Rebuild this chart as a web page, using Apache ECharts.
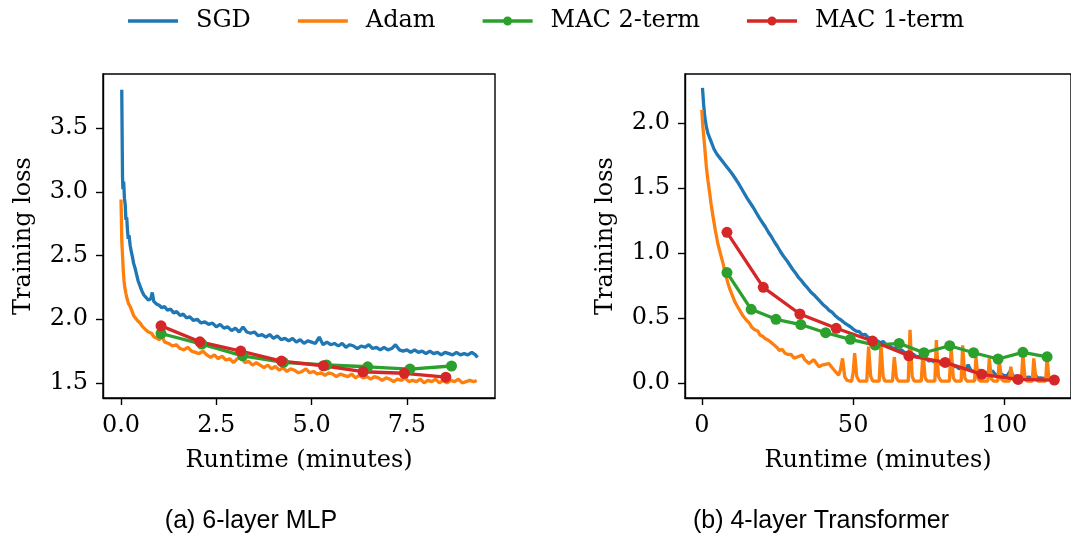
<!DOCTYPE html>
<html>
<head>
<meta charset="utf-8">
<script src="https://cdn.jsdelivr.net/npm/echarts@6/dist/echarts.min.js"></script>
<style>
html,body{margin:0;padding:0;background:#fff;}
#chart{width:1071px;height:539px;}
</style>
</head>
<body>
<div id="chart"></div>
<script>
// ---------- data ----------
const seriesNames = ['SGD', 'Adam', 'MAC 2-term', 'MAC 1-term'];
const captions = ['(a) 6-layer MLP', '(b) 4-layer Transformer'];
const xTitle = 'Runtime (minutes)';
const yTitle = 'Training loss';

const leftXTicks = [0, 2.5, 5.0, 7.5];
const leftYTicks = [1.5, 2.0, 2.5, 3.0, 3.5];
const rightXTicks = [0, 50, 100];
const rightYTicks = [0.0, 0.5, 1.0, 1.5, 2.0];

// (a) 6-layer MLP
const mlpSGD = [[0.02,3.80],[0.03,3.45],[0.04,3.12],[0.05,3.02],[0.07,3.08],[0.09,2.95],[0.11,2.90],[0.13,2.78],[0.15,2.80],[0.17,2.70],[0.19,2.63],[0.21,2.66],[0.24,2.58],[0.27,2.53],[0.30,2.49],[0.33,2.44],[0.37,2.40],[0.41,2.35],[0.45,2.30],[0.5,2.26],[0.55,2.22],[0.6,2.19],[0.66,2.17],[0.72,2.15],[0.78,2.16],[0.82,2.21],[0.86,2.14],[0.93,2.12],[1.0,2.11],[1.07,2.09],[1.14,2.10],[1.22,2.07],[1.3,2.08],[1.38,2.05],[1.46,2.06],[1.55,2.03],[1.63,2.04],[1.72,2.01],[1.8,2.02],[1.9,1.99],[2.0,2.00],[2.1,1.97],[2.2,1.98],[2.3,1.96],[2.4,1.97],[2.5,1.94],[2.6,1.96],[2.7,1.93],[2.8,1.94],[2.9,1.91],[3.0,1.93],[3.1,1.90],[3.2,1.94],[3.3,1.90],[3.4,1.89],[3.5,1.90],[3.6,1.87],[3.7,1.88],[3.8,1.86],[3.9,1.88],[4.0,1.85],[4.1,1.87],[4.2,1.84],[4.3,1.85],[4.4,1.83],[4.5,1.85],[4.6,1.82],[4.7,1.84],[4.8,1.81],[4.9,1.83],[5.0,1.82],[5.1,1.81],[5.2,1.86],[5.3,1.80],[5.4,1.82],[5.5,1.80],[5.6,1.81],[5.7,1.79],[5.8,1.81],[5.9,1.78],[6.0,1.80],[6.1,1.79],[6.2,1.77],[6.3,1.79],[6.4,1.78],[6.5,1.80],[6.6,1.77],[6.7,1.78],[6.8,1.76],[6.9,1.78],[7.0,1.76],[7.1,1.77],[7.2,1.80],[7.3,1.76],[7.4,1.75],[7.5,1.76],[7.6,1.74],[7.7,1.76],[7.8,1.74],[7.9,1.75],[8.0,1.73],[8.1,1.75],[8.2,1.73],[8.3,1.74],[8.4,1.72],[8.5,1.74],[8.6,1.73],[8.7,1.72],[8.8,1.74],[8.9,1.72],[9.0,1.73],[9.1,1.72],[9.2,1.74],[9.3,1.72],[9.35,1.70]];
const mlpAdam = [[0,2.94],[0.01,2.80],[0.02,2.62],[0.04,2.50],[0.06,2.38],[0.08,2.30],[0.1,2.25],[0.13,2.20],[0.16,2.16],[0.2,2.12],[0.24,2.10],[0.28,2.07],[0.33,2.03],[0.38,2.01],[0.43,1.99],[0.5,1.97],[0.57,1.94],[0.64,1.92],[0.72,1.90],[0.8,1.89],[0.87,1.86],[0.94,1.85],[1.0,1.84],[1.08,1.86],[1.15,1.82],[1.25,1.81],[1.35,1.79],[1.45,1.80],[1.55,1.77],[1.65,1.76],[1.75,1.78],[1.85,1.75],[1.95,1.74],[2.05,1.73],[2.15,1.75],[2.25,1.72],[2.35,1.70],[2.45,1.72],[2.55,1.69],[2.65,1.71],[2.75,1.68],[2.85,1.69],[2.95,1.66],[3.05,1.69],[3.15,1.70],[3.25,1.66],[3.35,1.67],[3.45,1.64],[3.55,1.66],[3.65,1.64],[3.75,1.62],[3.85,1.64],[3.95,1.61],[4.05,1.63],[4.15,1.60],[4.25,1.62],[4.35,1.59],[4.45,1.61],[4.55,1.60],[4.65,1.58],[4.75,1.59],[4.85,1.61],[4.95,1.58],[5.05,1.59],[5.15,1.57],[5.25,1.58],[5.35,1.56],[5.45,1.58],[5.55,1.57],[5.65,1.55],[5.75,1.57],[5.85,1.56],[5.95,1.55],[6.05,1.57],[6.15,1.54],[6.25,1.56],[6.35,1.54],[6.45,1.55],[6.55,1.53],[6.65,1.55],[6.75,1.54],[6.85,1.52],[6.95,1.54],[7.05,1.53],[7.15,1.51],[7.25,1.53],[7.35,1.52],[7.45,1.54],[7.55,1.51],[7.65,1.52],[7.75,1.51],[7.85,1.53],[7.95,1.50],[8.05,1.52],[8.15,1.51],[8.25,1.53],[8.35,1.50],[8.45,1.52],[8.55,1.50],[8.65,1.52],[8.75,1.51],[8.85,1.53],[8.95,1.50],[9.05,1.51],[9.15,1.52],[9.25,1.51],[9.33,1.52]];
const mlpMac2 = [[1.05,1.888],[2.12,1.805],[3.19,1.713],[4.26,1.661],[5.39,1.641],[6.47,1.627],[7.58,1.609],[8.67,1.633]];
const mlpMac1 = [[1.05,1.948],[2.07,1.823],[3.14,1.750],[4.21,1.672],[5.31,1.635],[6.35,1.588],[7.43,1.576],[8.52,1.545]];

// (b) 4-layer Transformer
const trSGD = [[0.2,2.27],[0.6,2.14],[1,2.04],[1.5,1.97],[2,1.92],[3,1.86],[4,1.80],[5,1.76],[6,1.73],[7,1.70],[8,1.67],[9,1.64],[10,1.61],[11,1.575],[12,1.54],[13,1.50],[14,1.46],[15,1.42],[16,1.385],[17,1.35],[18,1.31],[19,1.27],[20,1.235],[21,1.20],[22,1.16],[23,1.125],[24,1.085],[25,1.05],[26,1.01],[27,0.975],[28,0.945],[29,0.91],[30,0.875],[31,0.845],[32,0.81],[33,0.785],[34,0.755],[35,0.73],[36,0.70],[37,0.68],[38,0.655],[39,0.63],[40,0.605],[41,0.585],[42,0.56],[43,0.545],[44,0.52],[45,0.50],[46,0.485],[47,0.465],[48,0.45],[49,0.435],[50,0.415],[51,0.40],[52,0.395],[53,0.37],[54,0.375],[55,0.35],[56,0.345],[57,0.33],[58,0.325],[59,0.31],[60,0.32],[61,0.29],[62,0.285],[63,0.27],[64,0.265],[65,0.25],[66,0.255],[67,0.235],[68,0.23],[69,0.215],[70,0.22],[71,0.20],[72,0.205],[73,0.185],[74,0.19],[75,0.17],[76,0.175],[77,0.16],[78,0.165],[79,0.145],[80,0.155],[81,0.135],[82,0.14],[83,0.125],[84,0.13],[85,0.11],[86,0.12],[87,0.10],[88,0.14],[89,0.095],[90,0.09],[91,0.085],[92,0.10],[93,0.075],[94,0.08],[95,0.07],[96,0.095],[97,0.065],[98,0.06],[99,0.07],[100,0.055],[101,0.06],[102,0.095],[103,0.05],[104,0.055],[105,0.045],[106,0.06],[107,0.042],[108,0.045],[109,0.04],[110,0.07],[111,0.038],[112,0.04],[113,0.035],[114,0.045],[115,0.036]];
const trAdam = [[0,2.10],[0.3,1.98],[0.66,1.89],[1,1.80],[1.5,1.66],[2,1.56],[2.6,1.46],[3.1,1.37],[3.7,1.28],[4.5,1.17],[5.3,1.07],[6.2,0.99],[7,0.92],[7.8,0.84],[8.6,0.77],[9.3,0.72],[10.3,0.66],[11,0.62],[11.5,0.60],[12.5,0.56],[13.5,0.52],[14.5,0.49],[15.7,0.46],[16.5,0.43],[17.5,0.41],[18.5,0.40],[19.2,0.37],[20.1,0.36],[21,0.34],[22,0.33],[23,0.31],[24,0.29],[25,0.27],[25.6,0.25],[26.5,0.26],[27.5,0.23],[28.5,0.22],[29.5,0.22],[30.5,0.19],[31.5,0.20],[33.2,0.215],[34,0.18],[35.4,0.15],[37,0.18],[38.7,0.125],[40,0.14],[42,0.15],[43,0.12],[44.2,0.087],[45.2,0.06],[45.8,0.10],[46.5,0.19],[47.2,0.05],[48,0.02],[49.5,0.012],[50,0.08],[50.5,0.23],[51.2,0.05],[52,0.015],[54.5,0.015],[55.1,0.28],[55.8,0.05],[56.5,0.015],[58.6,0.015],[59.2,0.30],[59.9,0.05],[60.5,0.015],[63,0.015],[63.6,0.20],[64.3,0.04],[65,0.015],[68.2,0.015],[68.8,0.41],[69.5,0.05],[70.2,0.015],[72.5,0.015],[73.1,0.24],[73.8,0.04],[74.5,0.015],[77,0.015],[77.5,0.33],[78.2,0.05],[79,0.015],[81.8,0.015],[82.4,0.27],[83.1,0.04],[83.8,0.015],[85.7,0.015],[86.2,0.29],[86.9,0.04],[87.6,0.015],[90.1,0.015],[90.6,0.20],[91.3,0.03],[92,0.015],[94.5,0.015],[95.0,0.19],[95.7,0.03],[96.4,0.015],[97.8,0.015],[98.3,0.18],[99,0.03],[99.7,0.015],[101.6,0.015],[102.1,0.125],[102.8,0.03],[103.5,0.015],[105.6,0.015],[106.1,0.23],[106.8,0.03],[107.5,0.015],[109.2,0.015],[109.7,0.19],[110.4,0.03],[111.1,0.015],[113.6,0.015],[114.1,0.20],[114.7,0.03],[115.2,0.02]];
const trMac2 = [[8.3,0.850],[16.3,0.567],[24.5,0.490],[32.7,0.450],[40.9,0.387],[49.1,0.336],[57.3,0.292],[65.2,0.305],[73.4,0.233],[81.9,0.287],[89.8,0.233],[97.9,0.185],[106.1,0.236],[114.1,0.202]];
const trMac1 = [[8.3,1.159],[20.3,0.736],[32.4,0.531],[44.4,0.421],[56.4,0.323],[68.4,0.210],[80.4,0.159],[92.5,0.067],[104.5,0.028],[116.5,0.023]];

// ---------- styling ----------
const colors = ['#1f77b4', '#ff7f0e', '#2ca02c', '#d62728'];
const SERIF = 'DejaVu Serif';
const FS = 24;
const LW = 3.3;
const plainLineIcon = 'path://M0,3.3H50V6.7H0Z M0,0H0.01V10H0Z';
const markerLineIcon = 'path://M0,3.3H50V6.7H0Z M20.5,5A4.5,4.5 0 1 1 29.5,5A4.5,4.5 0 1 1 20.5,5Z M0,0H0.01V10H0Z';

function xAxisCfg(grid, min, max, ticks, fmt) {
  return {
    type: 'value', gridIndex: grid, min: min, max: max,
    name: xTitle, nameLocation: 'middle', nameGap: 51,
    nameTextStyle: {fontFamily: SERIF, fontSize: FS, color: '#000'},
    axisLine: {show: true, onZero: false, lineStyle: {color: '#000', width: 1.4}},
    axisTick: {show: true, length: 7, customValues: ticks, lineStyle: {color: '#000', width: 1.4}},
    axisLabel: {customValues: ticks, formatter: fmt, fontFamily: SERIF, fontSize: FS, color: '#000', margin: 16},
    splitLine: {show: false}
  };
}
function yAxisCfg(grid, min, max, ticks, fmt) {
  return {
    type: 'value', gridIndex: grid, min: min, max: max,
    name: yTitle, nameLocation: 'middle', nameGap: 67,
    nameTextStyle: {fontFamily: SERIF, fontSize: FS, color: '#000'},
    axisLine: {show: true, onZero: false, lineStyle: {color: '#000', width: 1.4}},
    axisTick: {show: true, length: 7, customValues: ticks, lineStyle: {color: '#000', width: 1.4}},
    axisLabel: {customValues: ticks, formatter: fmt, fontFamily: SERIF, fontSize: FS, color: '#000', margin: 15},
    splitLine: {show: false}
  };
}
function lineSeries(name, data, gi, ci, marker) {
  return {
    name: name, type: 'line', xAxisIndex: gi, yAxisIndex: gi, data: data,
    symbol: marker ? 'circle' : 'none', symbolSize: marker ? 11 : 0, showSymbol: !!marker,
    lineStyle: {color: colors[ci], width: LW},
    itemStyle: {color: colors[ci]},
    z: marker ? 5 : 3, animation: false, silent: true
  };
}

const f1 = v => v.toFixed(1);
const f0 = v => String(Math.round(v));

const option = {
  animation: false,
  backgroundColor: '#fff',
  legend: {
    top: 4, left: 123,
    data: [
      {name: seriesNames[0], icon: plainLineIcon},
      {name: seriesNames[1], icon: plainLineIcon},
      {name: seriesNames[2], icon: markerLineIcon},
      {name: seriesNames[3], icon: markerLineIcon}
    ],
    itemWidth: 50, itemHeight: 10, itemGap: 47,
    textStyle: {fontFamily: SERIF, fontSize: FS, color: '#000', padding: [0, 0, 0, 13]}
  },
  grid: [
    {left: 103, top: 74, width: 392, height: 324, show: true, borderColor: '#000', borderWidth: 1.4, containLabel: false},
    {left: 685, top: 74, width: 389, height: 324, show: true, borderColor: '#000', borderWidth: 1.4, containLabel: false}
  ],
  xAxis: [
    xAxisCfg(0, -0.472, 9.81, leftXTicks, f1),
    xAxisCfg(1, -5.57, 122.0, rightXTicks, f0)
  ],
  yAxis: [
    yAxisCfg(0, 1.382, 3.924, leftYTicks, f1),
    yAxisCfg(1, -0.115, 2.377, rightYTicks, f1)
  ],
  graphic: [
    {type: 'text', x: 251, y: 509, style: {text: captions[0], font: '25px "Liberation Sans"', fill: '#000', align: 'center', textAlign: 'center'}},
    {type: 'text', x: 821, y: 509, style: {text: captions[1], font: '25px "Liberation Sans"', fill: '#000', align: 'center', textAlign: 'center'}}
  ],
  series: [
    lineSeries(seriesNames[0], mlpSGD, 0, 0, false),
    lineSeries(seriesNames[1], mlpAdam, 0, 1, false),
    lineSeries(seriesNames[2], mlpMac2, 0, 2, true),
    lineSeries(seriesNames[3], mlpMac1, 0, 3, true),
    lineSeries(seriesNames[0], trSGD, 1, 0, false),
    lineSeries(seriesNames[1], trAdam, 1, 1, false),
    lineSeries(seriesNames[2], trMac2, 1, 2, true),
    lineSeries(seriesNames[3], trMac1, 1, 3, true)
  ]
};

const chart = echarts.init(document.getElementById('chart'), null, {renderer: 'canvas'});
chart.setOption(option);
</script>
</body>
</html>
